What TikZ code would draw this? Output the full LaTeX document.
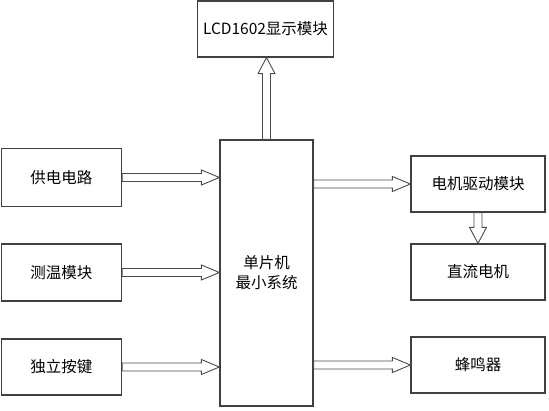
\documentclass[tikz,border=0pt]{standalone}
\usepackage{fontspec}
\setmainfont{Noto Sans CJK SC}
\usepackage{tikz}
\usetikzlibrary{calc}

% hollow block arrows, tip at the second point
\newcommand{\harrow}[2]{\draw[blockarrow] let \p1=(#1), \p2=(#2) in
  (\x1,\y1+4pt) -- (\x2-18pt,\y1+4pt) -- (\x2-18pt,\y1+7.5pt) -- (\x2,\y1)
  -- (\x2-18pt,\y1-7.5pt) -- (\x2-18pt,\y1-4pt) -- (\x1,\y1-4pt) -- cycle;}
\newcommand{\varrow}[3]{\draw[blockarrow] let \p1=(#1), \p2=(#2) in
  (\x1-4pt,\y1) -- (\x1-4pt,\y2-#3*16pt) -- (\x1-8.5pt,\y2-#3*16pt) -- (\x1,\y2)
  -- (\x1+8.5pt,\y2-#3*16pt) -- (\x1+4pt,\y2-#3*16pt) -- (\x1+4pt,\y1) -- cycle;}

\tikzset{
  block/.style={draw=black!75,line width=1.2pt,fill=white,inner sep=0pt,
    font=\fontsize{15.5}{20}\selectfont,align=center},
  blockarrow/.style={draw=black!70,line width=0.9pt,fill=white}
}

\begin{document}
\begin{tikzpicture}[x=1pt,y=-1pt]
\useasboundingbox (0,0) rectangle (549,410);
\node[block,minimum width=136pt,minimum height=56pt] (lcd) at (265.5,29) {LCD1602显示模块};
\node[block,minimum width=93pt,minimum height=266pt] (mcu) at (266.5,273) {单片机\\最小系统};
\node[block,minimum width=120pt,minimum height=58pt] (pwr) at (61.5,177.5) {供电电路};
\node[block,minimum width=120pt,minimum height=57pt] (temp) at (61.5,272.5) {测温模块};
\node[block,minimum width=120pt,minimum height=56pt] (key) at (61.5,367) {独立按键};
\node[block,minimum width=134pt,minimum height=56pt] (drv) at (478,184) {电机驱动模块};
\node[block,minimum width=134pt,minimum height=56pt] (motor) at (478,272) {直流电机};
\node[block,minimum width=134pt,minimum height=56pt] (buzz) at (478,365) {蜂鸣器};

\harrow{pwr.east}{mcu.west |- pwr.east}
\harrow{temp.east}{mcu.west |- temp.east}
\harrow{key.east}{mcu.west |- key.east}
\harrow{mcu.east |- drv.west}{drv.west}
\harrow{mcu.east |- buzz.west}{buzz.west}
\varrow{mcu.north}{lcd.south}{1}
\varrow{drv.south}{motor.north}{-1}
\end{tikzpicture}
\end{document}
